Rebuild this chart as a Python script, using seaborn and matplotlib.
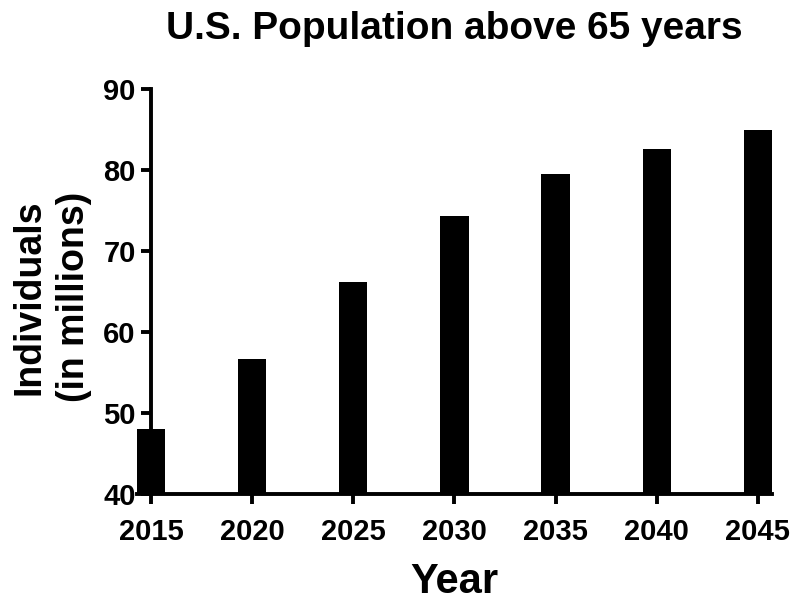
import matplotlib
matplotlib.use('Agg')
import numpy as np
import pandas as pd
import seaborn as sns
import matplotlib.pyplot as plt

YEARS = ['2015', '2020', '2025', '2030', '2035', '2040', '2045']
POPULATION_MILLIONS = [48.0, 56.7, 66.2, 74.3, 79.5, 82.6, 84.9]
Y_TICKS = [40, 50, 60, 70, 80, 90]


def plot_population(years, values):

    data = pd.DataFrame({'Year': years, 'Individuals': values})

    sns.set_style('ticks')
    plt.rcParams['font.family'] = ['Liberation Sans', 'DejaVu Sans']
    plt.rcParams['font.weight'] = 'bold'
    plt.rcParams['axes.labelweight'] = 'bold'
    plt.rcParams['axes.titleweight'] = 'bold'
    plt.rcParams['text.color'] = 'black'
    plt.rcParams['axes.labelcolor'] = 'black'

    fig = plt.figure(figsize=(8, 6.04), dpi=100)
    ax = fig.add_axes([0.171, 0.182, 0.794, 0.671])

    sns.barplot(data=data, x='Year', y='Individuals', order=years,
        color='black', saturation=1, width=0.28, edgecolor='none', ax=ax)

    ax.set_xlim(-0.14, 6.14)
    ax.set_ylim(40, 90)
    ax.set_yticks(Y_TICKS)

    for side in ['top', 'right']:
        ax.spines[side].set_visible(False)
    ax.spines['left'].set_position(('data', 0))
    for side in ['left', 'bottom']:
        ax.spines[side].set_linewidth(2.8)
        ax.spines[side].set_color('black')

    ax.tick_params(axis='both', direction='out', length=7, width=2.8,
        labelsize=21, colors='black')
    ax.tick_params(axis='y', pad=4)
    ax.tick_params(axis='x', pad=10)

    ax.set_xlabel('Year', fontsize=30, fontweight='bold', labelpad=12)
    ax.set_ylabel('Individuals\n(in millions)', fontsize=27, fontweight='bold',
        linespacing=1.3)
    ax.yaxis.set_label_coords(-0.071, 0.486)

    ax.set_title('U.S. Population above 65 years', fontsize=28,
        fontweight='bold', pad=36)

    fig.savefig('out.png', dpi=100, facecolor='white')


if __name__ == '__main__':

    plot_population(YEARS, POPULATION_MILLIONS)
